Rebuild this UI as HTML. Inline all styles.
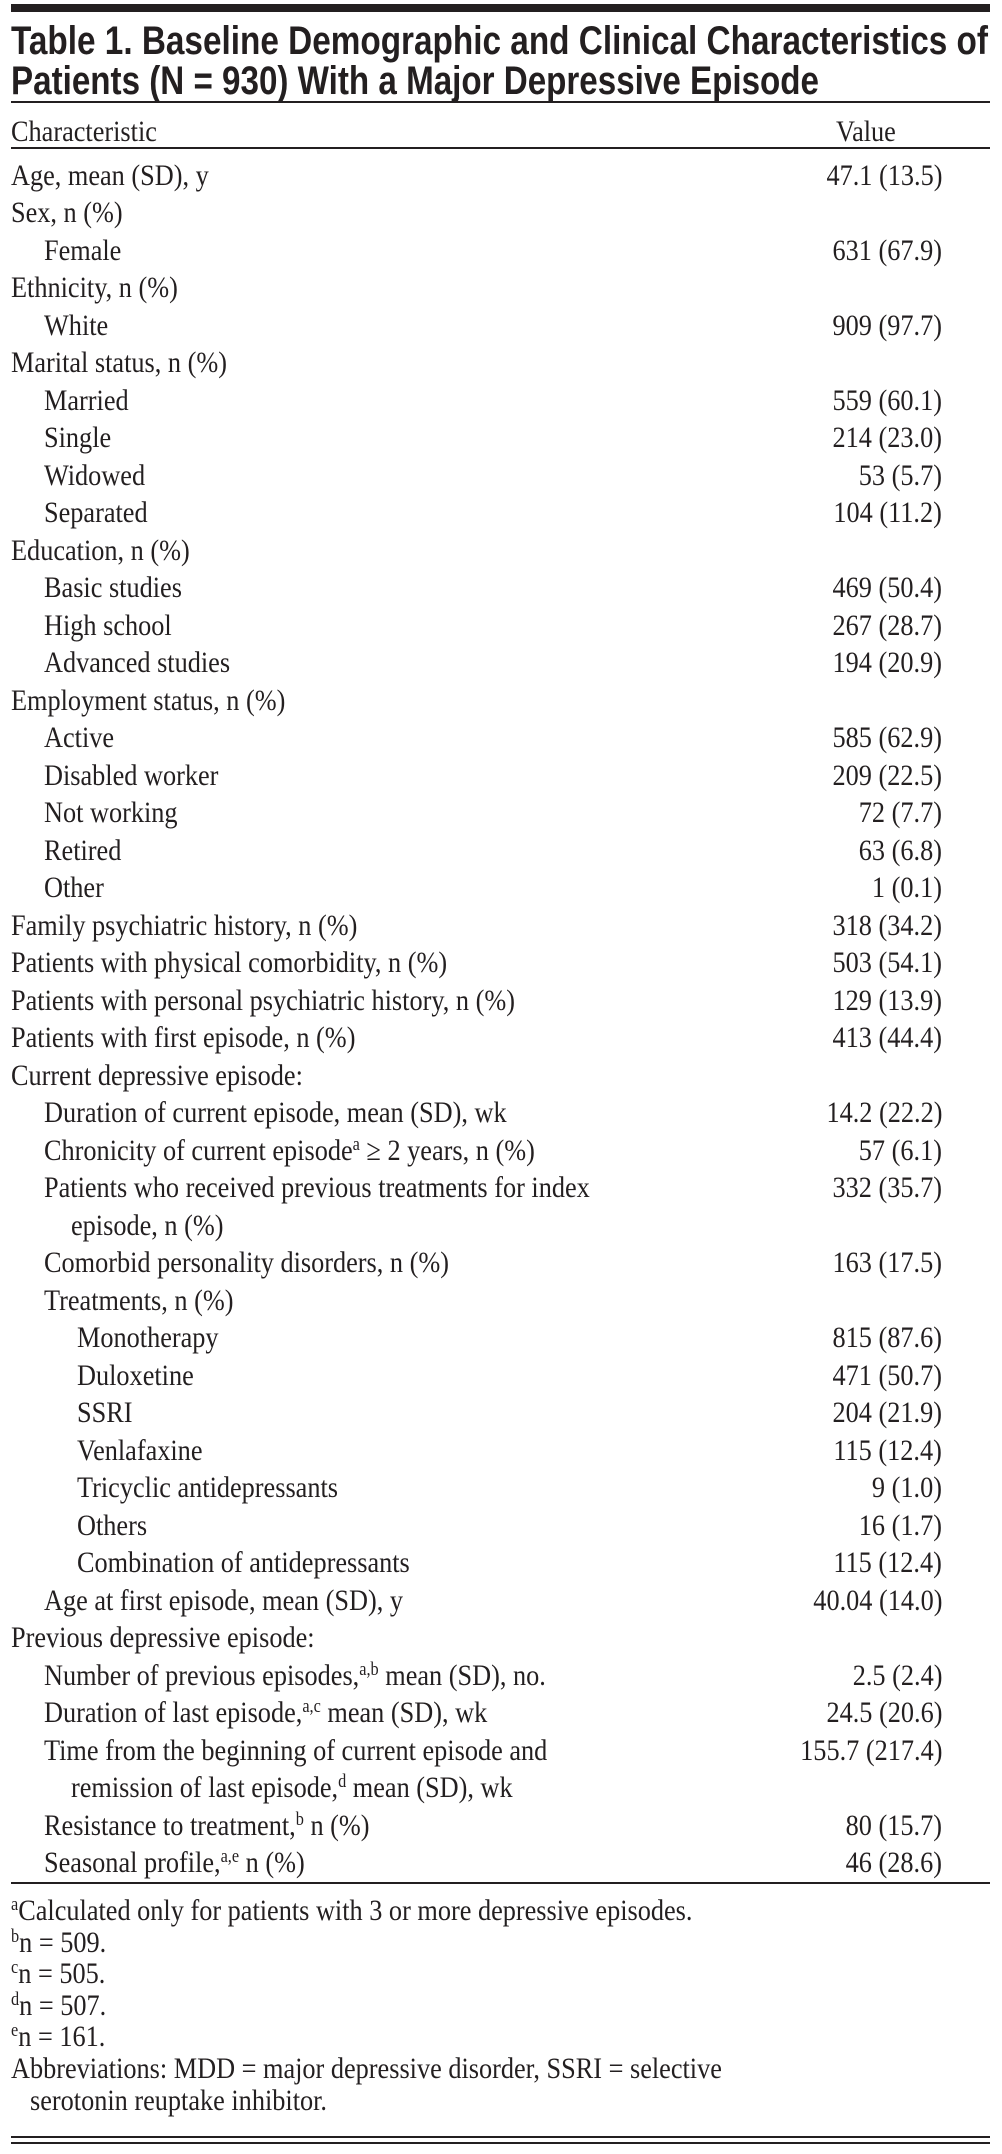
<!DOCTYPE html>
<html><head><meta charset="utf-8">
<style>
html,body{margin:0;padding:0;background:#fff;}
body{width:1002px;height:2154px;position:relative;overflow:hidden;font-family:"Liberation Serif",serif;color:#231f20;}
.r{position:absolute;background:#231f20;left:11px;width:979px;}
.l{position:absolute;white-space:nowrap;font-size:30px;line-height:32px;transform-origin:0 50%;}
.v{position:absolute;white-space:nowrap;font-size:30px;line-height:32px;transform-origin:100% 50%;right:60px;text-align:right;}
.t{position:absolute;left:11px;white-space:nowrap;font-family:"Liberation Sans",sans-serif;font-weight:bold;font-size:40px;line-height:44px;transform-origin:0 50%;}
sup{font-size:62%;line-height:0;vertical-align:0.55em;}
</style></head><body>
<div class="r" style="top:4px;height:8px"></div>
<div class="t" id="t1" style="top:19px">Table 1. Baseline Demographic and Clinical Characteristics of</div>
<div class="t" id="t2" style="top:59px">Patients (N = 930) With a Major Depressive Episode</div>
<div class="r" style="top:101px;height:2px"></div>
<div class="l" style="left:11px;top:116px">Characteristic</div>
<div class="l" id="val" style="left:836px;top:116px">Value</div>
<div class="r" style="top:147px;height:2px"></div>
<div id="rows"></div>
<div class="r" style="top:1882px;height:2px"></div>
<div class="r" style="top:2136px;height:2px"></div>
<div class="r" style="top:2142px;height:2px"></div>
<script>
var rows=[
[0,"Age, mean (SD), y","47.1 (13.5)"],
[0,"Sex, n (%)",""],
[1,"Female","631 (67.9)"],
[0,"Ethnicity, n (%)",""],
[1,"White","909 (97.7)"],
[0,"Marital status, n (%)",""],
[1,"Married","559 (60.1)"],
[1,"Single","214 (23.0)"],
[1,"Widowed","53 (5.7)"],
[1,"Separated","104 (11.2)"],
[0,"Education, n (%)",""],
[1,"Basic studies","469 (50.4)"],
[1,"High school","267 (28.7)"],
[1,"Advanced studies","194 (20.9)"],
[0,"Employment status, n (%)",""],
[1,"Active","585 (62.9)"],
[1,"Disabled worker","209 (22.5)"],
[1,"Not working","72 (7.7)"],
[1,"Retired","63 (6.8)"],
[1,"Other","1 (0.1)"],
[0,"Family psychiatric history, n (%)","318 (34.2)"],
[0,"Patients with physical comorbidity, n (%)","503 (54.1)"],
[0,"Patients with personal psychiatric history, n (%)","129 (13.9)"],
[0,"Patients with first episode, n (%)","413 (44.4)"],
[0,"Current depressive episode:",""],
[1,"Duration of current episode, mean (SD), wk","14.2 (22.2)"],
[1,"Chronicity of current episode<sup>a</sup> ≥ 2 years, n (%)","57 (6.1)"],
[1,"Patients who received previous treatments for index","332 (35.7)"],
[3,"episode, n (%)",""],
[1,"Comorbid personality disorders, n (%)","163 (17.5)"],
[1,"Treatments, n (%)",""],
[2,"Monotherapy","815 (87.6)"],
[2,"Duloxetine","471 (50.7)"],
[2,"SSRI","204 (21.9)"],
[2,"Venlafaxine","115 (12.4)"],
[2,"Tricyclic antidepressants","9 (1.0)"],
[2,"Others","16 (1.7)"],
[2,"Combination of antidepressants","115 (12.4)"],
[1,"Age at first episode, mean (SD), y","40.04 (14.0)"],
[0,"Previous depressive episode:",""],
[1,"Number of previous episodes,<sup>a,b</sup> mean (SD), no.","2.5 (2.4)"],
[1,"Duration of last episode,<sup>a,c</sup> mean (SD), wk","24.5 (20.6)"],
[1,"Time from the beginning of current episode and","155.7 (217.4)"],
[3,"remission of last episode,<sup>d</sup> mean (SD), wk",""],
[1,"Resistance to treatment,<sup>b</sup> n (%)","80 (15.7)"],
[1,"Seasonal profile,<sup>a,e</sup> n (%)","46 (28.6)"]
];
var ind=[11,44,77,71];
var h="";
rows.forEach(function(r,i){
 var c=176+i*37.49;
 h+='<div class="l" style="left:'+ind[r[0]]+'px;top:'+(c-16)+'px">'+r[1]+'</div>';
 if(r[2])h+='<div class="v" style="top:'+(c-16)+'px">'+r[2]+'</div>';
});
var fn=[[11,"<sup>a</sup>Calculated only for patients with 3 or more depressive episodes."],
[11,"<sup>b</sup>n = 509."],[11,"<sup>c</sup>n = 505."],[11,"<sup>d</sup>n = 507."],[11,"<sup>e</sup>n = 161."],
[11,"Abbreviations: MDD = major depressive disorder, SSRI = selective"],[30,"serotonin reuptake inhibitor."]];
fn.forEach(function(f,i){
 var c=1911+i*31.6;
 h+='<div class="l" style="left:'+f[0]+'px;top:'+(c-16)+'px">'+f[1]+'</div>';
});
document.getElementById('rows').innerHTML=h;
var ref=document.querySelectorAll('#rows .l')[22];
var s=504/ref.getBoundingClientRect().width;
document.querySelectorAll('.l,.v').forEach(function(e){e.style.transform='scaleX('+s+')';});
var t1=document.getElementById('t1'),t2=document.getElementById('t2');
t1.style.transform='scaleX('+(977/t1.getBoundingClientRect().width)+')';
t2.style.transform='scaleX('+(808/t2.getBoundingClientRect().width)+')';
</script>
</body></html>
